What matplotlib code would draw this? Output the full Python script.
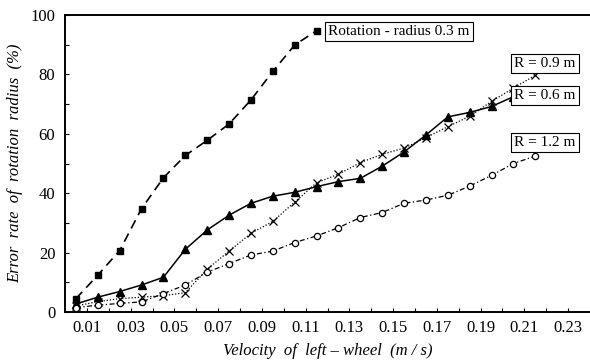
import matplotlib
matplotlib.use("Agg")
import matplotlib.pyplot as plt

# ---- data ----
velocity = [0.005, 0.015, 0.025, 0.035, 0.045, 0.055, 0.065, 0.075, 0.085, 0.095,
            0.105, 0.115, 0.125, 0.135, 0.145, 0.155, 0.165, 0.175, 0.185, 0.195,
            0.205, 0.215]
r03 = [4.5, 12.4, 20.7, 34.8, 45.2, 52.7, 57.8, 63.3, 71.4, 81.0, 89.9, 94.7]
r06 = [2.7, 5.0, 6.9, 9.1, 11.7, 21.1, 27.6, 32.6, 36.6, 39.0, 40.3, 42.2, 43.9,
       45.0, 49.1, 53.9, 59.6, 65.7, 67.2, 69.2, 72.5]
r09 = [2.0, 3.5, 4.5, 5.0, 5.5, 6.5, 14.4, 20.5, 26.5, 30.5, 37.0, 43.5, 46.4,
       50.3, 53.1, 55.2, 58.7, 62.4, 65.9, 70.9, 75.4, 79.7]
r12 = [1.5, 2.3, 2.9, 3.4, 6.2, 9.1, 13.4, 16.3, 19.2, 20.5, 23.4, 25.6, 28.4,
       31.8, 33.5, 36.6, 37.7, 39.3, 42.4, 46.0, 50.0, 52.5]
xtick_vals = [0.01, 0.03, 0.05, 0.07, 0.09, 0.11, 0.13, 0.15, 0.17, 0.19, 0.21, 0.23]
xtick_labels = ["0.01", "0.03", "0.05", "0.07", "0.09", "0.11", "0.13", "0.15",
                "0.17", "0.19", "0.21", "0.23"]
ytick_vals = [0, 20, 40, 60, 80, 100]
labels = ["Rotation - radius 0.3 m", "R = 0.9 m", "R = 0.6 m", "R = 1.2 m"]

plt.rcParams['font.family'] = ['Liberation Serif', 'DejaVu Serif']

fig = plt.figure(figsize=(5.9, 3.63), dpi=100)
ax = fig.add_axes([65/590, 51/363, 525/590, 297/363])

ax.plot(velocity[:len(r03)], r03, color='black', lw=1.2, ls=(0, (5.5, 3.5)),
        marker='s', ms=5, mfc='black', mec='black', zorder=3)
ax.plot(velocity[:len(r06)], r06, color='black', lw=1.1, ls='-',
        marker='^', ms=5.5, mfc='black', mec='black', zorder=3)
ax.plot(velocity[:len(r09)], r09, color='black', lw=0.9, ls=(0, (1, 1.5)),
        marker='x', ms=6, mew=0.9, zorder=3)
ax.plot(velocity[:len(r12)], r12, color='black', lw=0.9, ls=(0, (4, 2, 1, 2)),
        marker='o', ms=4.5, mfc='white', mec='black', mew=0.9, zorder=3)

ax.set_xlim(0, 0.24)
ax.set_ylim(0, 100)
ax.set_xticks(xtick_vals)
ax.set_xticklabels(xtick_labels)
ax.set_xticks([0.02 + 0.02*k for k in range(11)], minor=True)
ax.set_yticks(ytick_vals)
ax.set_yticks([10, 30, 50, 70, 90], minor=True)
ax.tick_params(axis='both', which='both', direction='in', length=3, width=0.8,
               labelsize=12)
ax.tick_params(axis='x', pad=6)
ax.tick_params(axis='y', pad=7)

for s in ['left', 'bottom', 'top']:
    ax.spines[s].set_linewidth(1.4)
ax.spines['right'].set_visible(False)

box = dict(boxstyle='square,pad=0.2', fc='white', ec='black', lw=0.8)
pos = [(0.636, 0.943), (0.914, 0.838), (0.914, 0.729), (0.914, 0.571)]
for t, (px, py) in zip(labels, pos):
    ax.text(px, py, t, transform=ax.transAxes, ha='center', va='center',
            fontsize=11, bbox=box, zorder=5)

ax.set_xlabel("Velocity  of  left – wheel  (m / s)", fontsize=12, style='italic',
              labelpad=5)
ax.set_ylabel("Error  rate  of  rotation  radius  (%)", fontsize=12, style='italic',
              labelpad=5)

fig.savefig("out.png", dpi=100)
